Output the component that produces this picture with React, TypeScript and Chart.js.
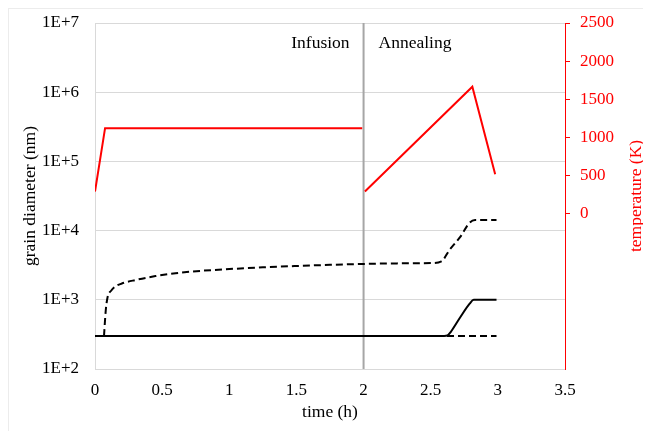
import React, { useEffect, useRef } from 'react';
import { Chart, registerables } from 'chart.js';

Chart.register(...registerables);

// Temperature profile (K): infusion hold, then annealing ramp and cool-down
const tempInfusionTime = [0, 0.075, 1.99];
const tempInfusionK = [293, 1123, 1123];
const tempAnnealTime = [2.01, 2.81, 2.98];
const tempAnnealK = [293, 1665, 520];

// Grain diameter (nm), solid curve
const solidTime = [0, 2.6, 2.625, 2.65, 2.72, 2.79, 2.82, 2.99];
const solidNm = [300, 300, 306, 345, 560, 880, 1000, 1000];

// Grain diameter (nm), dashed growth curve
const dashedTime = [0.067, 0.08, 0.094, 0.12, 0.15, 0.2, 0.3, 0.45, 0.6, 0.8, 1.0, 1.25, 1.5, 1.75, 2.0, 2.25, 2.5, 2.58, 2.64, 2.72, 2.79, 2.83, 2.99];
const dashedNm = [300, 700, 1100, 1350, 1550, 1720, 1930, 2200, 2420, 2630, 2780, 2950, 3080, 3200, 3300, 3360, 3400, 3600, 5250, 8100, 13000, 14200, 14200];

// Grain diameter (nm), dashed baseline
const baseTime = [0, 2.99];
const baseNm = [300, 300];

// Axes
const timeTicks = [0, 0.5, 1, 1.5, 2, 2.5, 3, 3.5];
const diameterTicks = [1e2, 1e3, 1e4, 1e5, 1e6, 1e7];
const temperatureTicks = [0, 500, 1000, 1500, 2000, 2500];
const temperatureMin = -2030;

// Phase boundary and labels
const phaseBoundary = 2;
const phaseLabels = ['Infusion', 'Annealing'];

const serif = "'Liberation Serif', 'Times New Roman', serif";
const RED = '#ff0000';
const GRID = '#d9d9d9';

const pts = (xs: number[], ys: number[]) => xs.map((x, i) => ({ x, y: ys[i] }));

// fixed-width vertical axis without the extra label padding above/below
const fixVertical = (s: any) => {
  s.width = 86;
  s.paddingTop = 0;
  s.paddingBottom = 0;
};

const overlayText = {
  id: 'overlayText',
  afterDatasetsDraw(chart: any) {
    const { ctx, chartArea, scales } = chart;
    const xb = scales.x.getPixelForValue(phaseBoundary);
    ctx.save();
    ctx.font = `17.5px ${serif}`;
    ctx.fillStyle = '#000';
    ctx.textBaseline = 'middle';
    const y = chartArea.top + 20;
    ctx.textAlign = 'right';
    ctx.fillText(phaseLabels[0], xb - 14, y);
    ctx.textAlign = 'left';
    ctx.fillText(phaseLabels[1], xb + 15, y);

    // right axis title, reading bottom-to-top
    const yr = scales.yT;
    ctx.translate(yr.right - 14.3, (chartArea.top + chartArea.bottom) / 2);
    ctx.rotate(-Math.PI / 2);
    ctx.textAlign = 'center';
    ctx.fillStyle = RED;
    ctx.fillText('temperature (K)', 0, 0);
    ctx.restore();
  },
};

export default function App() {
  const ref = useRef<HTMLCanvasElement | null>(null);

  useEffect(() => {
    if (!ref.current) return;
    const chart = new Chart(ref.current, {
      type: 'line',
      data: {
        datasets: [
          {
            data: pts(tempInfusionTime, tempInfusionK),
            yAxisID: 'yT',
            borderColor: RED,
            borderWidth: 2,
            pointRadius: 0,
            tension: 0,
            order: 1,
          },
          {
            data: pts(tempAnnealTime, tempAnnealK),
            yAxisID: 'yT',
            borderColor: RED,
            borderWidth: 2,
            pointRadius: 0,
            tension: 0,
            order: 1,
          },
          {
            data: pts(solidTime, solidNm),
            yAxisID: 'y',
            borderColor: '#000',
            borderWidth: 2,
            pointRadius: 0,
            cubicInterpolationMode: 'monotone',
            order: 0,
          },
          {
            data: pts(dashedTime, dashedNm),
            yAxisID: 'y',
            borderColor: '#000',
            borderWidth: 2,
            borderDash: [7, 4],
            pointRadius: 0,
            cubicInterpolationMode: 'monotone',
            order: 2,
          },
          {
            data: pts(baseTime, baseNm),
            yAxisID: 'y',
            borderColor: '#000',
            borderWidth: 2,
            borderDash: [7, 4],
            pointRadius: 0,
            order: 3,
          },
          {
            data: pts([phaseBoundary, phaseBoundary], [diameterTicks[0], diameterTicks[diameterTicks.length - 1]]),
            yAxisID: 'y',
            borderColor: '#a6a6a6',
            borderWidth: 2,
            pointRadius: 0,
            order: 4,
          },
        ],
      },
      options: {
        responsive: false,
        animation: false,
        layout: { padding: { top: 14, left: 0, right: 0, bottom: 0 } },
        plugins: { legend: { display: false }, tooltip: { enabled: false } },
        scales: {
          x: {
            type: 'linear',
            min: timeTicks[0],
            max: timeTicks[timeTicks.length - 1],
            afterBuildTicks: (s: any) => {
              s.ticks = timeTicks.map((v) => ({ value: v }));
            },
            afterFit: (s: any) => {
              s.height = 62;
            },
            grid: { display: false, drawTicks: false },
            border: { display: true, color: GRID, width: 1 },
            ticks: {
              padding: 11,
              color: '#000',
              font: { family: serif, size: 17 },
              maxRotation: 0,
              callback: (v: any) => String(v),
            },
            title: {
              display: true,
              text: 'time (h)',
              color: '#000',
              font: { family: serif, size: 17.5 },
              padding: { top: 0, bottom: 8 },
            },
          },
          y: {
            type: 'logarithmic',
            position: 'left',
            min: diameterTicks[0],
            max: diameterTicks[diameterTicks.length - 1],
            afterBuildTicks: (s: any) => {
              s.ticks = diameterTicks.map((v) => ({ value: v }));
            },
            afterFit: fixVertical,
            grid: { color: GRID, lineWidth: 1, drawTicks: false },
            border: { display: true, color: GRID, width: 1 },
            ticks: {
              padding: 16,
              color: '#000',
              font: { family: serif, size: 17 },
              callback: (v: any) => '1E+' + Math.round(Math.log10(Number(v))),
            },
            title: {
              display: true,
              text: 'grain diameter (nm)',
              color: '#000',
              font: { family: serif, size: 17.5 },
              padding: { top: 11, bottom: 0 },
            },
          },
          yT: {
            type: 'linear',
            position: 'right',
            min: temperatureMin,
            max: temperatureTicks[temperatureTicks.length - 1],
            afterBuildTicks: (s: any) => {
              s.ticks = temperatureTicks.map((v) => ({ value: v }));
            },
            afterFit: fixVertical,
            grid: { drawOnChartArea: false, drawTicks: true, tickLength: 5, color: RED, lineWidth: 1 },
            border: { display: true, color: RED, width: 1 },
            ticks: {
              padding: 10,
              color: RED,
              font: { family: serif, size: 17 },
              callback: (v: any) => String(v),
            },
          },
        },
      },
      plugins: [overlayText],
    } as any);
    return () => chart.destroy();
  }, []);

  return (
    <div
      style={{
        marginLeft: -1,
        marginTop: -1,
        borderTop: '2px solid #ececec',
        borderLeft: '2px solid #ececec',
        width: 642,
        height: 422,
      }}
    >
      <canvas ref={ref} width={642} height={422} style={{ display: 'block' }} />
    </div>
  );
}
